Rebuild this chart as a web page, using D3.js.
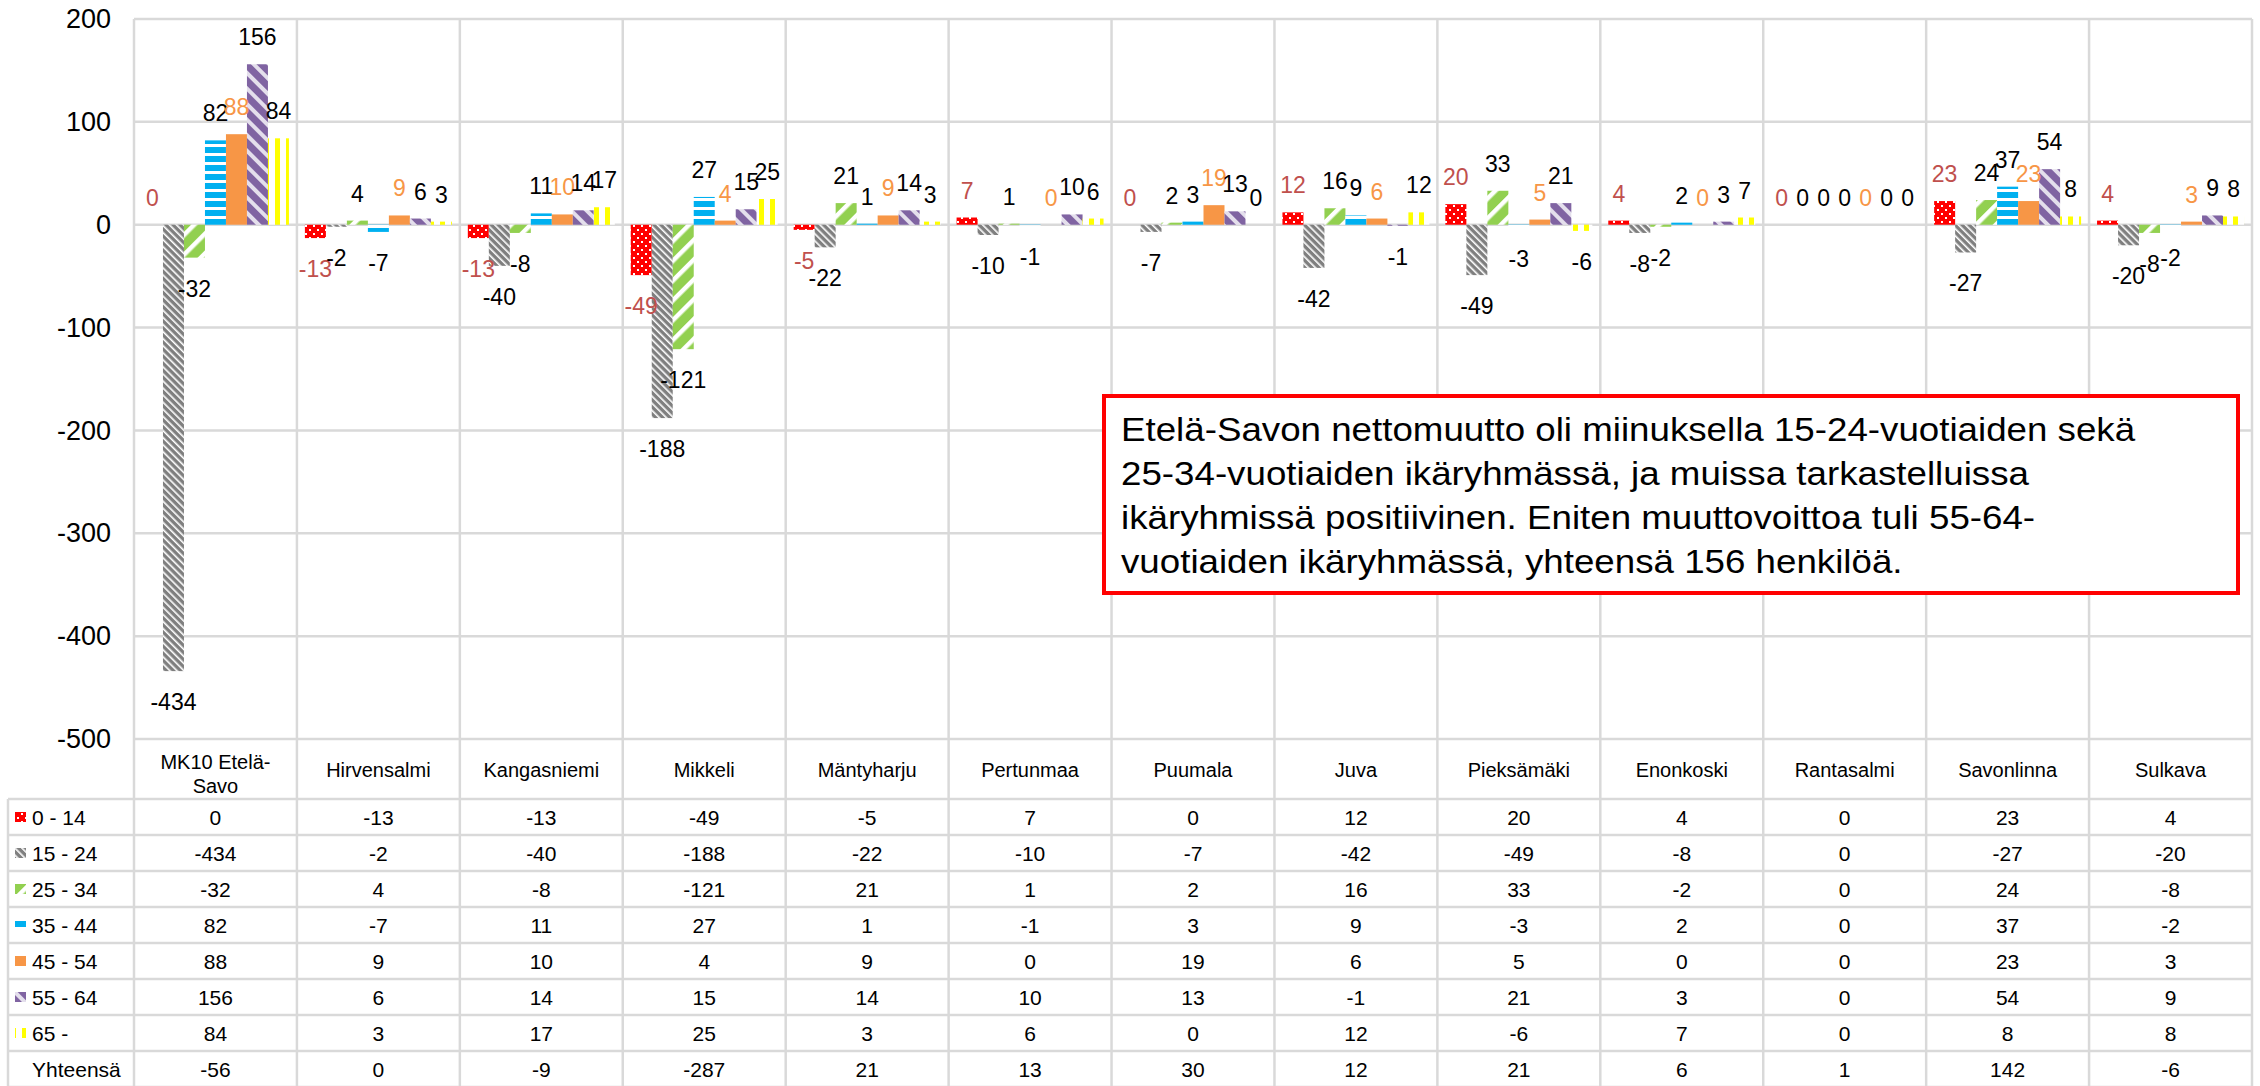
<!DOCTYPE html>
<html>
<head>
<meta charset="utf-8">
<script src="https://cdn.jsdelivr.net/npm/d3@7"></script>
<style>
body { margin: 0; background: #fff; }
text { font-family: "Liberation Sans", Arial, sans-serif; }
</style>
</head>
<body>
<svg width="2260" height="1086"></svg>
<script>
// chart values
var categories = ["MK10 Etelä-Savo", "Hirvensalmi", "Kangasniemi", "Mikkeli", "Mäntyharju", "Pertunmaa",
	"Puumala", "Juva", "Pieksämäki", "Enonkoski", "Rantasalmi", "Savonlinna", "Sulkava"];
var seriesNames = ["0 - 14", "15 - 24", "25 - 34", "35 - 44", "45 - 54", "55 - 64", "65 -"];
var age0_14 = [0, -13, -13, -49, -5, 7, 0, 12, 20, 4, 0, 23, 4];
var age15_24 = [-434, -2, -40, -188, -22, -10, -7, -42, -49, -8, 0, -27, -20];
var age25_34 = [-32, 4, -8, -121, 21, 1, 2, 16, 33, -2, 0, 24, -8];
var age35_44 = [82, -7, 11, 27, 1, -1, 3, 9, -3, 2, 0, 37, -2];
var age45_54 = [88, 9, 10, 4, 9, 0, 19, 6, 5, 0, 0, 23, 3];
var age55_64 = [156, 6, 14, 15, 14, 10, 13, -1, 21, 3, 0, 54, 9];
var age65 = [84, 3, 17, 25, 3, 6, 0, 12, -6, 7, 0, 8, 8];
var totals = [-56, 0, -9, -287, 21, 13, 30, 12, 21, 6, 1, 142, -6];
var totalName = "Yhteensä";
var yTicks = [200, 100, 0, -100, -200, -300, -400, -500];
var noteLines = [
	"Etelä-Savon nettomuutto oli miinuksella 15-24-vuotiaiden sekä",
	"25-34-vuotiaiden ikäryhmässä, ja muissa tarkastelluissa",
	"ikäryhmissä positiivinen. Eniten muuttovoittoa tuli 55-64-",
	"vuotiaiden ikäryhmässä, yhteensä 156 henkilöä."
];

var series = [age0_14, age15_24, age25_34, age35_44, age45_54, age55_64, age65];

var svg = d3.select("svg");
var plotLeft = 134, plotRight = 2252, plotTop = 19, plotBottom = 739;
var tableTop = 799, rowHeight = 36, tableLeft = 8, tableBottom = 1086;
var gridColor = "#d9d9d9";
var gridWidth = 2.5;

var x = d3.scaleBand().domain(categories).range([plotLeft, plotRight]);
var xInner = d3.scaleBand().domain(d3.range(series.length)).range([0, x.bandwidth()]).paddingOuter(0.38);
var y = d3.scaleLinear().domain([-500, 200]).range([plotBottom, plotTop]);

svg.append("rect").attr("width", 2260).attr("height", 1086).attr("fill", "#fff");

// fill patterns for the age groups
var defs = svg.append("defs");

function stripePattern(id, stripeColor, bgColor, size, stripe, angle) {
	var p = defs.append("pattern")
		.attr("id", id)
		.attr("patternUnits", "userSpaceOnUse")
		.attr("width", size)
		.attr("height", size)
		.attr("patternTransform", "rotate(" + angle + ")");
	p.append("rect").attr("width", size).attr("height", size).attr("fill", bgColor);
	p.append("rect").attr("width", stripe).attr("height", size).attr("fill", stripeColor);
}

var dots = defs.append("pattern")
	.attr("id", "p0")
	.attr("patternUnits", "userSpaceOnUse")
	.attr("width", 8)
	.attr("height", 8);
dots.append("rect").attr("width", 8).attr("height", 8).attr("fill", "#ff0000");
dots.append("rect").attr("x", 1).attr("y", 1).attr("width", 2).attr("height", 2).attr("fill", "#fff");
dots.append("rect").attr("x", 5).attr("y", 5).attr("width", 2).attr("height", 2).attr("fill", "#fff");

stripePattern("p1", "#ffffff", "#7f7f7f", 5, 1.6, -45);
stripePattern("p2", "#ffffff", "#92d050", 14, 4.5, 45);
stripePattern("p3", "#ffffff", "#00b0f0", 9, 3, 90);
stripePattern("p5", "#e4dfec", "#8064a2", 11, 4, -45);
stripePattern("p6", "#ffff00", "#ffffff", 11, 5, 0);

var fills = ["url(#p0)", "url(#p1)", "url(#p2)", "url(#p3)", "#f79646", "url(#p5)", "url(#p6)"];
var labelColors = ["#c0504d", "#000", "#000", "#000", "#f79646", "#000", "#000"];

// horizontal gridlines
svg.append("g").selectAll("line")
	.data(yTicks)
	.enter().append("line")
	.attr("x1", plotLeft)
	.attr("x2", plotRight)
	.attr("y1", function(d) { return y(d); })
	.attr("y2", function(d) { return y(d); })
	.attr("stroke", gridColor)
	.attr("stroke-width", gridWidth);

// category borders run through the plot and the table
var borders = categories.map(function(c) { return x(c); }).concat([plotRight]);
svg.append("g").selectAll("line")
	.data(borders)
	.enter().append("line")
	.attr("x1", function(d) { return d; })
	.attr("x2", function(d) { return d; })
	.attr("y1", plotTop)
	.attr("y2", tableBottom)
	.attr("stroke", gridColor)
	.attr("stroke-width", gridWidth);

// table rows
var rowLines = d3.range(series.length + 2).map(function(i) { return tableTop + i * rowHeight; });
svg.append("g").selectAll("line")
	.data(rowLines)
	.enter().append("line")
	.attr("x1", tableLeft)
	.attr("x2", plotRight)
	.attr("y1", function(d) { return d; })
	.attr("y2", function(d) { return d; })
	.attr("stroke", gridColor)
	.attr("stroke-width", gridWidth);

svg.append("line")
	.attr("x1", tableLeft).attr("x2", tableLeft)
	.attr("y1", tableTop).attr("y2", tableBottom)
	.attr("stroke", gridColor)
	.attr("stroke-width", gridWidth);

// y axis labels, plain hyphen for negatives like the original
var yAxis = d3.axisLeft(y)
	.tickValues(yTicks)
	.tickSize(0)
	.tickPadding(0)
	.tickFormat(function(d) { return String(d); });
var yAxisG = svg.append("g")
	.attr("transform", "translate(111,0)")
	.call(yAxis);
yAxisG.select(".domain").remove();
yAxisG.selectAll("text")
	.attr("font-size", 27)
	.attr("font-family", "Liberation Sans, Arial, sans-serif")
	.attr("fill", "#000");

// bars
series.forEach(function(vals, s) {
	svg.append("g").selectAll("rect")
		.data(vals)
		.enter().append("rect")
		.attr("x", function(d, i) { return x(categories[i]) + xInner(s); })
		.attr("y", function(d) { return y(Math.max(0, d)); })
		.attr("width", xInner.bandwidth())
		.attr("height", function(d) { return Math.abs(y(d) - y(0)); })
		.attr("fill", fills[s]);
});

// value labels at the bar ends
series.forEach(function(vals, s) {
	svg.append("g").selectAll("text")
		.data(vals)
		.enter().append("text")
		.attr("x", function(d, i) { return x(categories[i]) + xInner(s) + xInner.bandwidth() / 2; })
		.attr("y", function(d) { return d < 0 ? y(d) + 31 : y(d) - 27; })
		.attr("text-anchor", "middle")
		.attr("dominant-baseline", "central")
		.attr("font-size", 23)
		.attr("fill", labelColors[s])
		.text(function(d) { return d; });
});

// table header: category names, wrapped when too wide
var headers = svg.append("g").selectAll("text")
	.data(categories)
	.enter().append("text")
	.attr("x", function(d) { return x(d) + x.bandwidth() / 2; })
	.attr("y", 770)
	.attr("text-anchor", "middle")
	.attr("dominant-baseline", "central")
	.attr("font-size", 20)
	.attr("fill", "#000")
	.text(function(d) { return d; });

headers.each(function(d) {
	var t = d3.select(this);
	if (this.getComputedTextLength() > x.bandwidth() - 20) {
		var cut = d.lastIndexOf("-") + 1;
		t.text(null);
		t.append("tspan").attr("x", x(d) + x.bandwidth() / 2).attr("y", 762).text(d.slice(0, cut));
		t.append("tspan").attr("x", x(d) + x.bandwidth() / 2).attr("y", 786).text(d.slice(cut));
	}
});

// table body: one row per age group plus the total row
var rows = series.concat([totals]);
var rowNames = seriesNames.concat([totalName]);

rows.forEach(function(vals, r) {
	var cy = tableTop + r * rowHeight + rowHeight / 2;
	svg.append("g").selectAll("text")
		.data(vals)
		.enter().append("text")
		.attr("x", function(d, i) { return x(categories[i]) + x.bandwidth() / 2; })
		.attr("y", cy)
		.attr("text-anchor", "middle")
		.attr("dominant-baseline", "central")
		.attr("font-size", 21)
		.attr("fill", "#000")
		.text(function(d) { return d; });

	svg.append("text")
		.attr("x", 32)
		.attr("y", cy)
		.attr("dominant-baseline", "central")
		.attr("font-size", 21)
		.attr("fill", "#000")
		.text(rowNames[r]);

	if (r < series.length) {
		svg.append("rect")
			.attr("x", 15)
			.attr("y", cy - 5)
			.attr("width", 11)
			.attr("height", 10)
			.attr("fill", fills[r]);
	}
});

// annotation box
svg.append("rect")
	.attr("x", 1104)
	.attr("y", 396)
	.attr("width", 1134)
	.attr("height", 197)
	.attr("fill", "#fff")
	.attr("stroke", "#ff0000")
	.attr("stroke-width", 4);

// note text is slightly wide in the original
svg.append("g").selectAll("text")
	.data(noteLines)
	.enter().append("text")
	.attr("transform", function(d, i) { return "translate(1121," + (441 + i * 44) + ") scale(1.08,1)"; })
	.attr("font-size", 34)
	.attr("fill", "#000")
	.text(function(d) { return d; });
</script>
</body>
</html>
